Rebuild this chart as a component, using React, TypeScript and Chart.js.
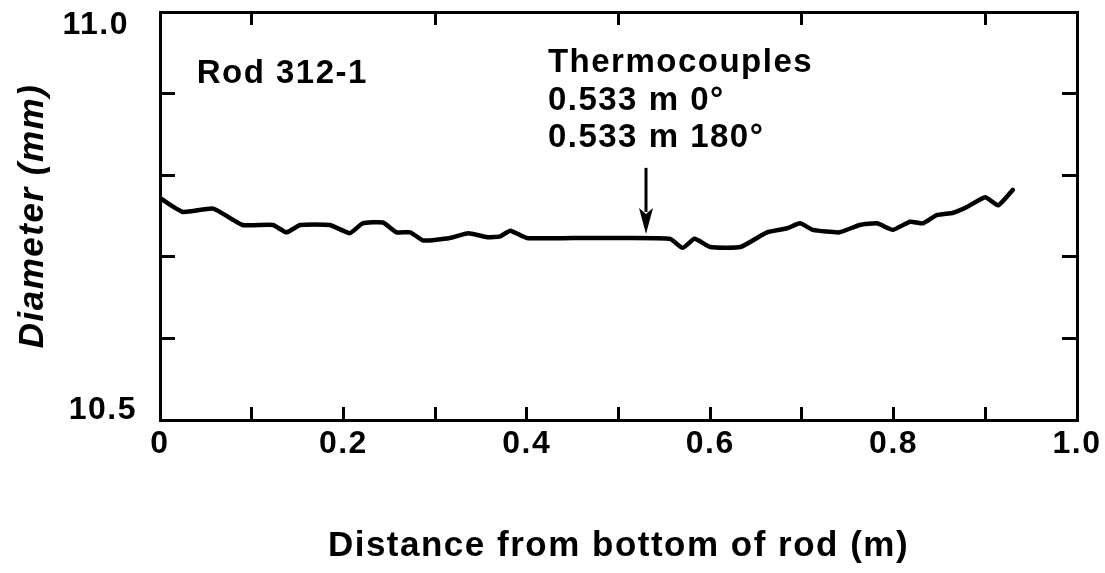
import React, { useEffect, useRef } from 'react';
import { Chart, registerables } from 'chart.js';

Chart.register(...registerables);

// ---- data ----
const positionM = [
  0.0, 0.025, 0.058, 0.09, 0.123, 0.138, 0.153, 0.185, 0.207, 0.221, 0.243, 0.258, 0.273, 0.287,
  0.316, 0.336, 0.357, 0.371, 0.382, 0.4, 0.45, 0.5, 0.556, 0.57, 0.583, 0.6, 0.633, 0.662,
  0.684, 0.698, 0.712, 0.741, 0.763, 0.782, 0.799, 0.818, 0.832, 0.847, 0.865, 0.88, 0.9,
  0.914, 0.93,
];
const diameterMm = [
  10.772, 10.755, 10.759, 10.739, 10.739, 10.73, 10.739, 10.739, 10.729, 10.741, 10.742, 10.73,
  10.73, 10.72, 10.723, 10.729, 10.724, 10.725, 10.732, 10.723, 10.723, 10.723, 10.722, 10.711,
  10.722, 10.712, 10.712, 10.73, 10.735, 10.741, 10.733, 10.73, 10.739, 10.741, 10.733, 10.743,
  10.741, 10.751, 10.754, 10.761, 10.773, 10.763, 10.782,
];
const xLabelTicks = [0, 0.2, 0.4, 0.6, 0.8, 1.0];
const xLabelTexts = ['0', '0.2', '0.4', '0.6', '0.8', '1.0'];
const yLabelTicks = [11.0, 10.5];
const yLabelTexts = ['11.0', '10.5'];
const topTickValues = [0.1, 0.3, 0.5, 0.7, 0.9];
const rodLabel = 'Rod 312-1';
const thermoLines = ['Thermocouples', '0.533 m 0°', '0.533 m 180°'];
const thermoArrowX = 0.53;

const FONT = "'Liberation Sans', Arial, Helvetica, sans-serif";
const BLACK = '#000000';

const overlayPlugin = {
  id: 'overlay',
  beforeDraw(chart: any) {
    chart.ctx.letterSpacing = '1.5px';
  },
  afterDraw(chart: any) {
    const { ctx, scales } = chart;
    const xs = scales.x;
    const ys = scales.y;
    ctx.save();
    ctx.letterSpacing = '1.5px';
    ctx.fillStyle = BLACK;
    ctx.strokeStyle = BLACK;

    // y tick labels (only ends are labelled)
    ctx.font = `bold 32px ${FONT}`;
    ctx.textAlign = 'right';
    ctx.textBaseline = 'middle';
    yLabelTicks.forEach((v, i) => {
      const py = ys.getPixelForValue(v);
      const shift = i === 0 ? 13 : -10;
      const right = i === 0 ? ys.right - 31 : ys.right - 23;
      ctx.fillText(yLabelTexts[i], right, py + shift);
    });

    // annotations
    ctx.font = `bold 33px ${FONT}`;
    ctx.textAlign = 'left';
    ctx.fillText(rodLabel, xs.getPixelForValue(0.04), ys.getPixelForValue(10.924));
    const thermoY = [10.9375, 10.891, 10.846];
    thermoLines.forEach((t, i) => {
      ctx.fillText(t, xs.getPixelForValue(0.423), ys.getPixelForValue(thermoY[i]));
    });

    // arrow
    const ax = xs.getPixelForValue(thermoArrowX);
    const yTop = ys.getPixelForValue(10.809);
    const yTip = ys.getPixelForValue(10.728);
    const headH = 26;
    ctx.lineWidth = 3;
    ctx.beginPath();
    ctx.moveTo(ax, yTop);
    ctx.lineTo(ax, yTip - headH + 4);
    ctx.stroke();
    ctx.beginPath();
    ctx.moveTo(ax - 7, yTip - headH);
    ctx.lineTo(ax, yTip - headH + 6);
    ctx.lineTo(ax + 7, yTip - headH);
    ctx.lineTo(ax, yTip);
    ctx.closePath();
    ctx.fill();
    ctx.restore();
  },
};

export default function App() {
  const canvasRef = useRef<HTMLCanvasElement | null>(null);

  useEffect(() => {
    if (!canvasRef.current) return;
    const data = positionM.map((x, i) => ({ x, y: diameterMm[i] }));
    const chart = new Chart(canvasRef.current, {
      type: 'line',
      data: {
        datasets: [
          {
            data,
            borderColor: BLACK,
            borderWidth: 4.5,
            pointRadius: 0,
            tension: 0.15,
            borderJoinStyle: 'round',
            borderCapStyle: 'round',
            fill: false,
          },
        ],
      },
      plugins: [overlayPlugin],
      options: {
        animation: false,
        responsive: false,
        maintainAspectRatio: false,
        layout: { padding: 0 },
        plugins: {
          legend: { display: false },
          tooltip: { enabled: false },
        },
        scales: {
          x: {
            type: 'linear',
            position: 'bottom',
            min: 0,
            max: 1,
            afterFit: (s: any) => {
              s.height = 153;
              s.paddingLeft = 0;
              s.paddingRight = 0;
            },
            border: { display: true, color: BLACK, width: 3 },
            grid: {
              drawOnChartArea: false,
              drawTicks: true,
              tickLength: -13,
              tickWidth: 3,
              tickColor: BLACK,
            },
            ticks: {
              stepSize: 0.1,
              autoSkip: false,
              maxRotation: 0,
              padding: 18,
              color: BLACK,
              font: { family: FONT, size: 32, weight: 'bold' },
              callback: (value: any) => {
                const idx = xLabelTicks.findIndex((t) => Math.abs(t - Number(value)) < 1e-6);
                return idx >= 0 ? xLabelTexts[idx] : '';
              },
            },
            title: {
              display: true,
              text: 'Distance from bottom of rod (m)',
              color: BLACK,
              font: { family: FONT, size: 35, weight: 'bold' },
              padding: { top: 0, bottom: 6 },
            },
          },
          x2: {
            type: 'linear',
            position: 'top',
            min: 0,
            max: 1,
            afterFit: (s: any) => {
              s.height = 12;
              s.paddingLeft = 0;
              s.paddingRight = 0;
            },
            afterBuildTicks: (s: any) => {
              s.ticks = topTickValues.map((v) => ({ value: v }));
            },
            border: { display: true, color: BLACK, width: 3 },
            grid: {
              drawOnChartArea: false,
              drawTicks: true,
              tickLength: -13,
              tickWidth: 3,
              tickColor: BLACK,
            },
            ticks: { display: false },
          },
          y: {
            type: 'linear',
            position: 'left',
            min: 10.5,
            max: 11.0,
            afterFit: (s: any) => {
              s.width = 160;
              s.paddingTop = 0;
              s.paddingBottom = 0;
            },
            border: { display: true, color: BLACK, width: 3 },
            grid: {
              drawOnChartArea: false,
              drawTicks: true,
              tickLength: -15,
              tickWidth: 3,
              tickColor: BLACK,
            },
            ticks: { display: false, stepSize: 0.1 },
            title: {
              display: true,
              text: 'Diameter (mm)',
              color: BLACK,
              font: { family: FONT, size: 35, weight: 'bold', style: 'italic' },
              padding: { top: 12, bottom: 0 },
            },
          },
          y2: {
            type: 'linear',
            position: 'right',
            min: 10.5,
            max: 11.0,
            afterFit: (s: any) => {
              s.width = 28;
              s.paddingTop = 0;
              s.paddingBottom = 0;
            },
            border: { display: true, color: BLACK, width: 3 },
            grid: {
              drawOnChartArea: false,
              drawTicks: true,
              tickLength: -15,
              tickWidth: 3,
              tickColor: BLACK,
            },
            ticks: { display: false, stepSize: 0.1 },
          },
        },
      } as any,
    });
    return () => chart.destroy();
  }, []);

  return (
    <div style={{ position: 'fixed', left: 0, top: 0, width: 1105, height: 573, background: '#fff' }}>
      <canvas ref={canvasRef} width={1105} height={573} style={{ display: 'block' }} />
    </div>
  );
}
